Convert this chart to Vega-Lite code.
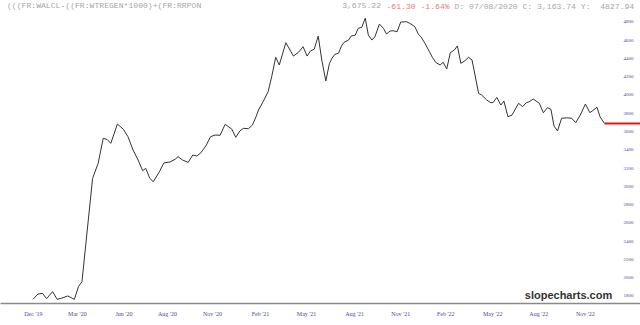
{
  "$schema": "https://vega.github.io/schema/vega-lite/v6.json",
  "width": 640,
  "height": 291,
  "autosize": {"type": "none"},
  "padding": {"top": 12, "left": 0, "right": 0, "bottom": 22},
  "background": "white",
  "config": {"view": {"stroke": null}},
  "title": {
    "text": "(((FR:WALCL-((FR:WTREGEN*1000)+(FR:RRPON\u00a0\u00a0\u00a0\u00a0\u00a0\u00a0\u00a0\u00a0\u00a0\u00a0\u00a0\u00a0\u00a0\u00a0\u00a0\u00a0\u00a0\u00a0\u00a0\u00a0\u00a0\u00a0\u00a0\u00a0\u00a0\u00a0\u00a0\u00a0\u00a03,675.22",
    "anchor": "start",
    "frame": "group",
    "dx": 7,
    "offset": -8,
    "font": "Liberation Mono",
    "fontSize": 8.1,
    "fontWeight": "normal",
    "color": "#a6a6a6"
  },
  "resolve": {"axis": {"y": "independent"}},
  "layer": [
    {
      "data": {
        "values": [
          {"date": "2019-12-05", "value": 1752},
          {"date": "2019-12-15", "value": 1810},
          {"date": "2019-12-24", "value": 1818},
          {"date": "2020-01-01", "value": 1759},
          {"date": "2020-01-13", "value": 1836},
          {"date": "2020-01-22", "value": 1752},
          {"date": "2020-01-31", "value": 1765},
          {"date": "2020-02-12", "value": 1789},
          {"date": "2020-02-25", "value": 1752},
          {"date": "2020-03-04", "value": 1890},
          {"date": "2020-03-11", "value": 1945},
          {"date": "2020-04-01", "value": 3076},
          {"date": "2020-04-12", "value": 3240},
          {"date": "2020-04-22", "value": 3514},
          {"date": "2020-04-30", "value": 3500},
          {"date": "2020-05-07", "value": 3459},
          {"date": "2020-05-20", "value": 3670},
          {"date": "2020-06-01", "value": 3612},
          {"date": "2020-06-10", "value": 3531},
          {"date": "2020-06-20", "value": 3386},
          {"date": "2020-06-30", "value": 3276},
          {"date": "2020-07-09", "value": 3159},
          {"date": "2020-07-15", "value": 3186},
          {"date": "2020-07-23", "value": 3076},
          {"date": "2020-07-30", "value": 3039},
          {"date": "2020-08-11", "value": 3148},
          {"date": "2020-08-20", "value": 3245},
          {"date": "2020-09-01", "value": 3255},
          {"date": "2020-09-11", "value": 3284},
          {"date": "2020-09-17", "value": 3313},
          {"date": "2020-09-26", "value": 3276},
          {"date": "2020-10-07", "value": 3251},
          {"date": "2020-10-16", "value": 3331},
          {"date": "2020-10-24", "value": 3320},
          {"date": "2020-11-01", "value": 3356},
          {"date": "2020-11-06", "value": 3393},
          {"date": "2020-11-12", "value": 3441},
          {"date": "2020-11-20", "value": 3531},
          {"date": "2020-11-29", "value": 3550},
          {"date": "2020-12-09", "value": 3547},
          {"date": "2020-12-19", "value": 3667},
          {"date": "2021-01-01", "value": 3616},
          {"date": "2021-01-09", "value": 3525},
          {"date": "2021-01-17", "value": 3594},
          {"date": "2021-01-24", "value": 3623},
          {"date": "2021-02-03", "value": 3619},
          {"date": "2021-02-11", "value": 3659},
          {"date": "2021-02-18", "value": 3750},
          {"date": "2021-02-23", "value": 3824},
          {"date": "2021-03-04", "value": 3914},
          {"date": "2021-03-14", "value": 4024},
          {"date": "2021-03-21", "value": 4188},
          {"date": "2021-03-29", "value": 4400},
          {"date": "2021-04-05", "value": 4316},
          {"date": "2021-04-18", "value": 4560},
          {"date": "2021-05-03", "value": 4414},
          {"date": "2021-05-13", "value": 4455},
          {"date": "2021-05-22", "value": 4516},
          {"date": "2021-05-30", "value": 4414},
          {"date": "2021-06-06", "value": 4472},
          {"date": "2021-06-13", "value": 4488},
          {"date": "2021-06-21", "value": 4633},
          {"date": "2021-06-28", "value": 4371},
          {"date": "2021-07-06", "value": 4141},
          {"date": "2021-07-13", "value": 4330},
          {"date": "2021-07-18", "value": 4389},
          {"date": "2021-07-24", "value": 4433},
          {"date": "2021-07-31", "value": 4444},
          {"date": "2021-08-06", "value": 4524},
          {"date": "2021-08-11", "value": 4564},
          {"date": "2021-08-20", "value": 4589},
          {"date": "2021-08-25", "value": 4633},
          {"date": "2021-09-02", "value": 4641},
          {"date": "2021-09-08", "value": 4717},
          {"date": "2021-09-15", "value": 4728},
          {"date": "2021-09-22", "value": 4828},
          {"date": "2021-09-28", "value": 4644},
          {"date": "2021-10-05", "value": 4589},
          {"date": "2021-10-11", "value": 4625},
          {"date": "2021-10-20", "value": 4764},
          {"date": "2021-10-28", "value": 4717},
          {"date": "2021-11-03", "value": 4655},
          {"date": "2021-11-10", "value": 4688},
          {"date": "2021-11-16", "value": 4691},
          {"date": "2021-11-24", "value": 4680},
          {"date": "2021-12-01", "value": 4786},
          {"date": "2021-12-12", "value": 4790},
          {"date": "2021-12-19", "value": 4772},
          {"date": "2021-12-29", "value": 4735},
          {"date": "2022-01-05", "value": 4652},
          {"date": "2022-01-10", "value": 4625},
          {"date": "2022-01-18", "value": 4553},
          {"date": "2022-01-25", "value": 4480},
          {"date": "2022-02-02", "value": 4396},
          {"date": "2022-02-09", "value": 4341},
          {"date": "2022-02-17", "value": 4316},
          {"date": "2022-02-23", "value": 4345},
          {"date": "2022-03-02", "value": 4272},
          {"date": "2022-03-09", "value": 4450},
          {"date": "2022-03-17", "value": 4480},
          {"date": "2022-03-23", "value": 4524},
          {"date": "2022-03-30", "value": 4334},
          {"date": "2022-04-07", "value": 4363},
          {"date": "2022-04-14", "value": 4400},
          {"date": "2022-04-21", "value": 4371},
          {"date": "2022-05-04", "value": 4006},
          {"date": "2022-05-10", "value": 3988},
          {"date": "2022-05-20", "value": 3933},
          {"date": "2022-05-28", "value": 3903},
          {"date": "2022-06-02", "value": 3908},
          {"date": "2022-06-09", "value": 3962},
          {"date": "2022-06-17", "value": 3878},
          {"date": "2022-06-23", "value": 3922},
          {"date": "2022-07-01", "value": 3750},
          {"date": "2022-07-09", "value": 3769},
          {"date": "2022-07-22", "value": 3897},
          {"date": "2022-07-30", "value": 3860},
          {"date": "2022-08-06", "value": 3903},
          {"date": "2022-08-12", "value": 3914},
          {"date": "2022-08-20", "value": 3944},
          {"date": "2022-09-01", "value": 3897},
          {"date": "2022-09-09", "value": 3794},
          {"date": "2022-09-17", "value": 3849},
          {"date": "2022-09-24", "value": 3831},
          {"date": "2022-09-30", "value": 3648},
          {"date": "2022-10-07", "value": 3594},
          {"date": "2022-10-15", "value": 3733},
          {"date": "2022-10-25", "value": 3738},
          {"date": "2022-11-04", "value": 3733},
          {"date": "2022-11-12", "value": 3685},
          {"date": "2022-11-21", "value": 3769},
          {"date": "2022-12-01", "value": 3889},
          {"date": "2022-12-10", "value": 3794},
          {"date": "2022-12-24", "value": 3853},
          {"date": "2022-12-30", "value": 3750},
          {"date": "2023-01-08", "value": 3675.22}
        ]
      },
      "mark": {"type": "line", "color": "#333333", "strokeWidth": 1, "interpolate": "linear"},
      "encoding": {
        "x": {
          "field": "date",
          "type": "temporal",
          "scale": {
            "type": "utc",
            "domain": [
              {"year": 2019, "month": 10, "date": 1, "utc": true},
              {"year": 2023, "month": 3, "date": 19, "utc": true}
            ]
          },
          "axis": {
            "orient": "bottom",
            "values": [
              {"year": 2019, "month": 12, "date": 5, "utc": true},
              {"year": 2020, "month": 3, "date": 1, "utc": true},
              {"year": 2020, "month": 6, "date": 1, "utc": true},
              {"year": 2020, "month": 8, "date": 26, "utc": true},
              {"year": 2020, "month": 11, "date": 23, "utc": true},
              {"year": 2021, "month": 2, "date": 26, "utc": true},
              {"year": 2021, "month": 5, "date": 28, "utc": true},
              {"year": 2021, "month": 8, "date": 31, "utc": true},
              {"year": 2021, "month": 11, "date": 30, "utc": true},
              {"year": 2022, "month": 2, "date": 27, "utc": true},
              {"year": 2022, "month": 5, "date": 31, "utc": true},
              {"year": 2022, "month": 8, "date": 30, "utc": true},
              {"year": 2022, "month": 11, "date": 30, "utc": true}
            ],
            "format": "%b '%y",
            "grid": false,
            "ticks": false,
            "domain": true,
            "domainColor": "#8a8a8a",
            "domainWidth": 1.5,
            "labelFont": "Liberation Serif",
            "labelFontSize": 6,
            "labelColor": "#4a4aa0",
            "labelPadding": 7,
            "labelFlush": false,
            "labelOverlap": false,
            "title": "slopecharts.com",
            "titleX": 568,
            "titleY": -5,
            "titleAlign": "center",
            "titleBaseline": "alphabetic",
            "titleFont": "Liberation Sans",
            "titleFontSize": 11,
            "titleFontWeight": "bold",
            "titleColor": "#333333"
          }
        },
        "y": {
          "field": "value",
          "type": "quantitative",
          "scale": {"domain": [1712, 4896], "nice": false, "zero": false},
          "axis": {
            "orient": "right",
            "offset": -20,
            "values": [1800, 2000, 2200, 2400, 2600, 2800, 3000, 3200, 3400, 3600, 3800, 4000, 4200, 4400, 4600, 4800],
            "format": "d",
            "grid": false,
            "ticks": false,
            "domain": false,
            "labelFont": "Liberation Serif",
            "labelFontSize": 5,
            "labelColor": "#4a4aa0",
            "labelPadding": 3,
            "labelAlign": "left",
            "labelFlush": false,
            "labelOverlap": false,
            "title": "-61.30 -1.64%",
            "titleAngle": 0,
            "titleX": -234,
            "titleY": -6,
            "titleAlign": "left",
            "titleBaseline": "middle",
            "titleFont": "Liberation Mono",
            "titleFontSize": 8.1,
            "titleFontWeight": "normal",
            "titleColor": "#e57a7a"
          }
        }
      }
    },
    {
      "data": {
        "values": [
          {"date": "2023-01-08", "date_end": "2023-03-19", "value": 3675.22}
        ]
      },
      "mark": {"type": "rule", "color": "#e01818", "strokeWidth": 2},
      "encoding": {
        "x": {"field": "date", "type": "temporal"},
        "x2": {"field": "date_end"},
        "y": {
          "field": "value",
          "type": "quantitative",
          "axis": {
            "orient": "left",
            "labels": false,
            "ticks": false,
            "domain": false,
            "grid": false,
            "title": "D: 07/08/2020 C: 3,163.74 Y:\u00a0\u00a04827.94",
            "titleAngle": 0,
            "titleX": 454,
            "titleY": -6,
            "titleAlign": "left",
            "titleBaseline": "middle",
            "titleFont": "Liberation Mono",
            "titleFontSize": 8.1,
            "titleFontWeight": "normal",
            "titleColor": "#a6a6a6"
          }
        }
      }
    }
  ]
}
